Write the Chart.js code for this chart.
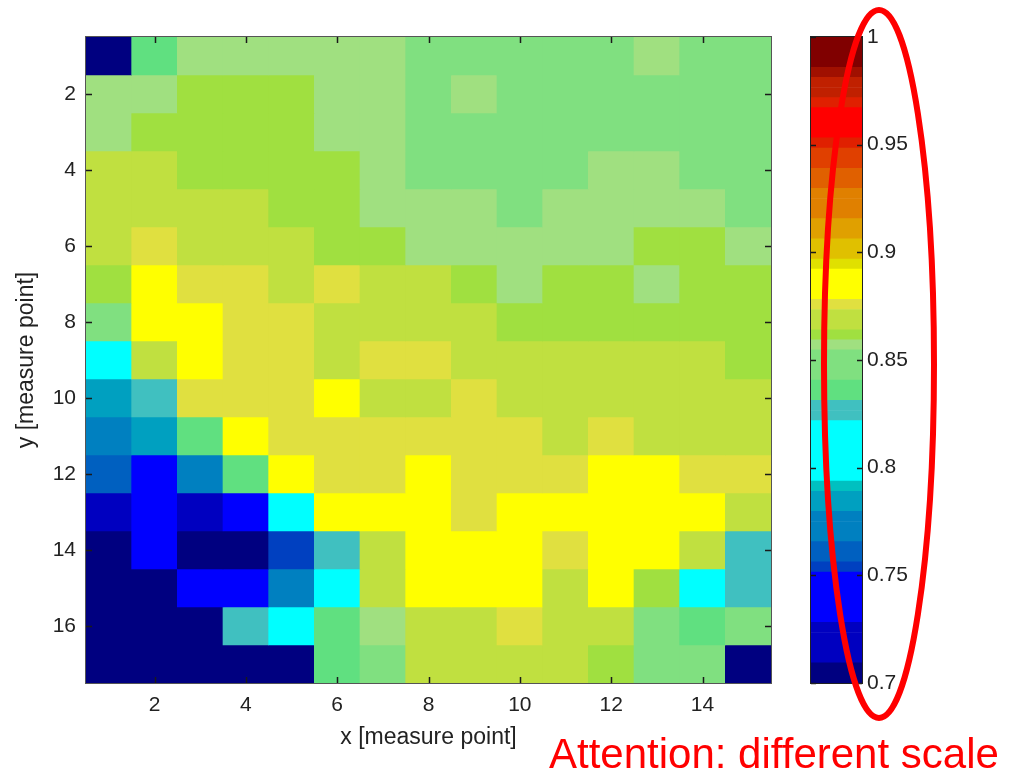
<!DOCTYPE html>
<html><head><meta charset="utf-8">
<script src="https://cdn.jsdelivr.net/npm/chart.js@4.4.1/dist/chart.umd.min.js"></script>
<style>
html,body{margin:0;padding:0;background:#fff;width:1009px;height:773px;overflow:hidden;}
#main{position:absolute;left:0;top:0;width:790px;height:773px;}
#cbar{position:absolute;left:790px;top:0;width:219px;height:773px;}
#note{position:absolute;left:549px;top:730px;font-family:"Liberation Sans",Arial,sans-serif;font-size:42px;color:#ff0000;white-space:nowrap;line-height:48px;}
</style></head><body>
<div id="main"><canvas id="c1"></canvas></div>
<div id="cbar"><canvas id="c2"></canvas></div>
<div id="note">Attention: different scale</div>
<script>
// ---- data ----
const xCols = [1,2,3,4,5,6,7,8,9,10,11,12,13,14,15];
const yRows = [1,2,3,4,5,6,7,8,9,10,11,12,13,14,15,16,17];
const xTicks = [2,4,6,8,10,12,14];
const yTicks = [2,4,6,8,10,12,14,16];
const cbTicks = [0.7,0.75,0.8,0.85,0.9,0.95,1];
const cbTickLabels = ['0.7','0.75','0.8','0.85','0.9','0.95','1'];
const cMin = 0.7, cMax = 1.0;
// values, row 1 (top) .. row 17 (bottom), columns 1..15
const values = [
 [0.705,0.835,0.857,0.857,0.857,0.857,0.857,0.848,0.848,0.848,0.848,0.848,0.857,0.848,0.848],
 [0.857,0.857,0.862,0.862,0.862,0.857,0.857,0.848,0.857,0.848,0.848,0.848,0.848,0.848,0.848],
 [0.857,0.862,0.862,0.862,0.862,0.857,0.857,0.848,0.848,0.848,0.848,0.848,0.848,0.848,0.848],
 [0.869,0.869,0.862,0.862,0.862,0.862,0.857,0.848,0.848,0.848,0.848,0.857,0.857,0.848,0.848],
 [0.869,0.869,0.869,0.869,0.862,0.862,0.857,0.857,0.857,0.848,0.857,0.857,0.857,0.857,0.848],
 [0.869,0.876,0.869,0.869,0.869,0.862,0.862,0.857,0.857,0.857,0.857,0.857,0.862,0.862,0.857],
 [0.862,0.885,0.876,0.876,0.869,0.876,0.869,0.869,0.862,0.857,0.862,0.862,0.857,0.862,0.862],
 [0.848,0.885,0.885,0.876,0.876,0.869,0.869,0.869,0.869,0.862,0.862,0.862,0.862,0.862,0.862],
 [0.810,0.869,0.885,0.876,0.876,0.869,0.876,0.876,0.869,0.869,0.869,0.869,0.869,0.869,0.862],
 [0.784,0.827,0.876,0.876,0.876,0.885,0.869,0.869,0.876,0.869,0.869,0.869,0.869,0.869,0.869],
 [0.773,0.784,0.835,0.885,0.876,0.876,0.876,0.876,0.876,0.876,0.869,0.876,0.869,0.869,0.869],
 [0.762,0.740,0.773,0.835,0.885,0.876,0.876,0.885,0.876,0.876,0.876,0.885,0.885,0.876,0.876],
 [0.720,0.740,0.720,0.740,0.810,0.885,0.885,0.885,0.876,0.885,0.885,0.885,0.885,0.885,0.869],
 [0.705,0.740,0.705,0.705,0.754,0.827,0.869,0.885,0.885,0.885,0.876,0.885,0.885,0.869,0.827],
 [0.705,0.705,0.740,0.740,0.773,0.810,0.869,0.885,0.885,0.885,0.869,0.885,0.862,0.810,0.827],
 [0.705,0.705,0.705,0.827,0.810,0.835,0.857,0.869,0.869,0.876,0.869,0.869,0.848,0.835,0.848],
 [0.705,0.705,0.705,0.705,0.705,0.835,0.848,0.869,0.869,0.869,0.869,0.862,0.848,0.848,0.705]
];
// colormap (64 levels, low -> high) as [colour, number of levels]
const cmapRuns = [
 ['#000080',2],['#0000C0',4],['#0000FF',5],['#0040C0',1],['#0060C0',2],['#0080C0',3],
 ['#00A0C0',2],['#00C0C0',1],['#00FFFF',6],['#40C0C0',2],['#60E080',2],['#80E080',3],
 ['#A0E080',1],['#A0E040',1],['#C0E040',2],['#E0E040',1],['#FFFF00',3],['#E0E000',1],
 ['#E0C000',2],['#E0A000',2],['#E08000',3],['#E06000',2],['#E04000',2],['#E02000',1],
 ['#FF0000',3],['#E02000',1],['#C02000',2],['#A01000',1],['#800000',3]
];
// ---- helpers ----
const cmap = [];
cmapRuns.forEach(([c,n]) => { for (let i = 0; i < n; i++) cmap.push(c); });
const nLev = cmap.length;
function colorFor(v){
  let j = Math.floor((v - cMin) / (cMax - cMin) * nLev + 1e-9);
  j = Math.max(0, Math.min(nLev - 1, j));
  return cmap[j];
}
const FONT = '"Liberation Sans", Arial, sans-serif';
const TXT = '#222222';
const tickFont = {family: FONT, size: 21};
const titleFont = {family: FONT, size: 23};

const framePlugin = {
  id: 'frame',
  afterDatasetsDraw(chart){
    const {ctx, chartArea: a, scales: {x, y}} = chart;
    ctx.save();
    ctx.strokeStyle = '#1a1a1a'; ctx.lineWidth = 1.5;
    ctx.beginPath();
    xTicks.forEach(v => {
      const px = Math.round(x.getPixelForValue(v)) + 0.5;
      ctx.moveTo(px, a.top); ctx.lineTo(px, a.top + 6);
      ctx.moveTo(px, a.bottom); ctx.lineTo(px, a.bottom - 6);
    });
    yTicks.forEach(v => {
      const py = Math.round(y.getPixelForValue(v)) + 0.5;
      ctx.moveTo(a.left, py); ctx.lineTo(a.left + 6, py);
      ctx.moveTo(a.right, py); ctx.lineTo(a.right - 6, py);
    });
    ctx.stroke();
    ctx.lineWidth = 1; ctx.strokeStyle = '#555555';
    ctx.strokeRect(Math.round(a.left) - 0.5, Math.round(a.top) - 0.5, Math.round(a.width) + 1, Math.round(a.height) + 1);
    ctx.restore();
  }
};

new Chart(document.getElementById('c1'), {
  type: 'bar',
  data: {
    datasets: yRows.map((r, ri) => ({
      data: xCols.map(c => ({x: c, y: [r - 0.5, r + 0.5]})),
      backgroundColor: values[ri].map(colorFor),
      borderWidth: 0, grouped: false, barPercentage: 1, categoryPercentage: 1
    }))
  },
  options: {
    responsive: true, maintainAspectRatio: false, animation: false,
    layout: {padding: {top: 37, right: 19, left: 0, bottom: 0}},
    plugins: {legend: {display: false}, tooltip: {enabled: false}},
    scales: {
      x: {
        type: 'linear', min: 0.5, max: 15.5, offset: false,
        grid: {display: false, drawTicks: false, offset: false}, border: {display: false},
        afterBuildTicks: s => { s.ticks = xTicks.map(v => ({value: v})); },
        ticks: {padding: 10, font: tickFont, color: TXT, autoSkip: false, maxRotation: 0},
        title: {display: true, text: 'x [measure point]', font: titleFont, color: TXT, padding: {top: 0, bottom: 22}},
        afterFit: s => { s.height = 90; }
      },
      y: {
        type: 'linear', reverse: true, min: 0.5, max: 17.5, offset: false,
        grid: {display: false, drawTicks: false}, border: {display: false},
        afterBuildTicks: s => { s.ticks = yTicks.map(v => ({value: v})); },
        ticks: {padding: 10, font: tickFont, color: TXT, autoSkip: false},
        title: {display: true, text: 'y [measure point]', font: titleFont, color: TXT, padding: {top: 13, bottom: 0}},
        afterFit: s => { s.width = 86; }
      }
    }
  },
  plugins: [framePlugin]
});

const cbarPlugin = {
  id: 'cbarframe',
  afterDatasetsDraw(chart){
    const {ctx, chartArea: a, scales: {y}} = chart;
    ctx.save();
    ctx.strokeStyle = '#1a1a1a'; ctx.lineWidth = 1.5;
    ctx.beginPath();
    cbTicks.forEach(v => {
      const py = Math.round(y.getPixelForValue(v)) + 0.5;
      ctx.moveTo(a.left, py); ctx.lineTo(a.left + 5, py);
      ctx.moveTo(a.right, py); ctx.lineTo(a.right - 5, py);
    });
    ctx.stroke();
    ctx.lineWidth = 1; ctx.strokeStyle = '#222222';
    ctx.strokeRect(Math.round(a.left) - 0.5, Math.round(a.top) - 0.5, Math.round(a.width) + 1, Math.round(a.height) + 1);
    ctx.restore();
  },
  afterDraw(chart){
    const ctx = chart.ctx;
    ctx.save();
    ctx.strokeStyle = '#ff0000'; ctx.lineWidth = 6;
    ctx.beginPath();
    ctx.ellipse(89, 364, 55, 354, 0, 0, Math.PI * 2);
    ctx.stroke();
    ctx.restore();
  }
};

new Chart(document.getElementById('c2'), {
  type: 'bar',
  data: {
    labels: [''],
    datasets: cmap.map((c, j) => ({
      data: [[cMin + j * (cMax - cMin) / nLev, cMin + (j + 1) * (cMax - cMin) / nLev]],
      backgroundColor: c, borderWidth: 0, grouped: false, barPercentage: 1, categoryPercentage: 1
    }))
  },
  options: {
    responsive: true, maintainAspectRatio: false, animation: false,
    layout: {padding: {top: 37, right: 0, left: 21, bottom: 90}},
    plugins: {legend: {display: false}, tooltip: {enabled: false}},
    scales: {
      x: {display: false},
      y: {
        type: 'linear', position: 'right', min: cMin, max: cMax,
        grid: {display: false, drawTicks: false}, border: {display: false},
        afterBuildTicks: s => { s.ticks = cbTicks.map(v => ({value: v})); },
        ticks: {padding: 5, font: tickFont, color: TXT, autoSkip: false,
                callback: (v, i) => cbTickLabels[i]},
        afterFit: s => { s.width = 147; }
      }
    }
  },
  plugins: [cbarPlugin]
});
</script>
</body></html>
